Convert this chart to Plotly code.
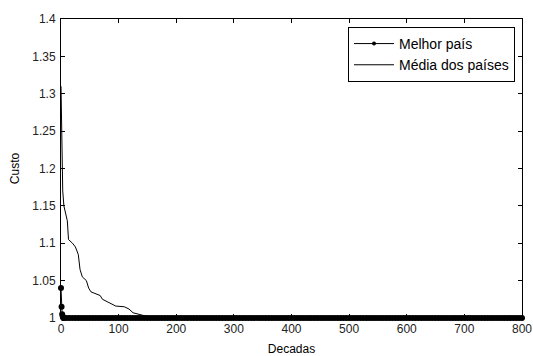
import plotly.graph_objects as go

# Best country (cost per decade)
best_x = [0, 1, 2, 3, 4, 5] + list(range(10, 801, 5))
best_y = [1.04, 1.015, 1.005, 1.002, 1.0, 1.0] + [1.0] * len(range(10, 801, 5))

# Average of countries
avg_x = [0, 1, 2, 3, 5, 8, 11, 13, 20, 25, 30, 33, 37, 44, 48, 52, 60, 68, 72,
         80, 85, 95, 110, 118, 125, 135, 145, 155, 200, 800]
avg_y = [1.31, 1.25, 1.2, 1.17, 1.15, 1.14, 1.13, 1.105, 1.1, 1.095, 1.085, 1.065,
         1.055, 1.05, 1.04, 1.035, 1.032, 1.03, 1.025, 1.022, 1.02, 1.016, 1.015,
         1.012, 1.007, 1.005, 1.003, 1.001, 1.0005, 1.0]

x_ticks = [0, 100, 200, 300, 400, 500, 600, 700, 800]
y_ticks = [1, 1.05, 1.1, 1.15, 1.2, 1.25, 1.3, 1.35, 1.4]
y_labels = ["1", "1.05", "1.1", "1.15", "1.2", "1.25", "1.3", "1.35", "1.4"]

fig = go.Figure()
fig.add_trace(go.Scatter(x=best_x, y=best_y, mode="lines+markers", name="Melhor país",
                         line=dict(color="black", width=1), cliponaxis=False,
                         marker=dict(color="black", size=6), showlegend=False))
# legend entry for best country (smaller marker, as in the reference legend)
fig.add_trace(go.Scatter(x=[None], y=[None], mode="lines+markers", name="Melhor país",
                         line=dict(color="black", width=1),
                         marker=dict(color="black", size=4)))
fig.add_trace(go.Scatter(x=avg_x, y=avg_y, mode="lines", name="Média dos países",
                         line=dict(color="black", width=1)))

axis_common = dict(showgrid=False, zeroline=False, showline=True, linecolor="black",
                   linewidth=1, mirror="ticks", ticks="inside", ticklen=4,
                   tickcolor="black", tickfont=dict(size=12, color="#222"),
                   automargin=False)

fig.update_layout(
    width=533, height=356,
    margin=dict(l=61, r=11, t=19, b=38),
    paper_bgcolor="white", plot_bgcolor="white",
    font=dict(family="Liberation Sans, Arial, sans-serif", size=12, color="black"),
    xaxis=dict(range=[0, 800], tickvals=x_ticks,
               title=dict(text="Decadas", standoff=15, font=dict(size=12)),
               **axis_common),
    yaxis=dict(range=[1, 1.4], tickvals=y_ticks, ticktext=y_labels,
               title=dict(text="Custo", standoff=10, font=dict(size=12)),
               ticklabelstandoff=2, **axis_common),
    legend=dict(x=(515 - 61) / 461, y=(319 - 27) / 300, xanchor="right", yanchor="top",
                xref="paper", yref="paper",
                bgcolor="white", bordercolor="black", borderwidth=1,
                font=dict(size=14), tracegroupgap=0, itemwidth=40),
    showlegend=True,
)

fig.write_html("out.html", config={"displayModeBar": False},
               post_script="document.body.style.margin='0';document.body.style.overflow='hidden';")
